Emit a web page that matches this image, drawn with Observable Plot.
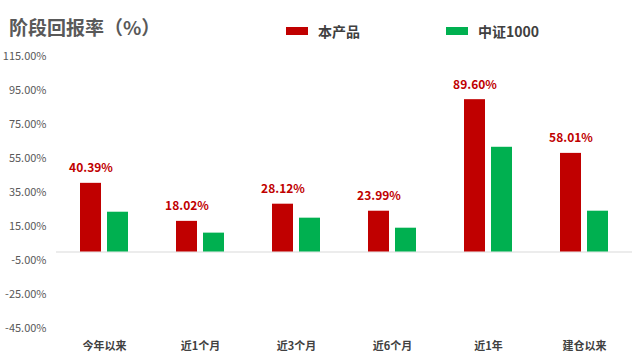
<!DOCTYPE html>
<html>
<head>
<meta charset="utf-8">
<script src="https://cdn.jsdelivr.net/npm/d3@7"></script>
<script src="https://cdn.jsdelivr.net/npm/@observablehq/plot@0.6"></script>
<style>
  body { margin: 0; background: #fff; font-family: "Noto Sans CJK SC", "Noto Sans", sans-serif; }
  #wrap { width: 640px; height: 361px; position: relative; overflow: hidden; }
  #header { position: relative; height: 48px; }
  #title { position: absolute; left: 9px; top: 12px; font-size: 19px; font-weight: bold; color: #595959; line-height: 30px; }
  .leg { position: absolute; top: 21px; font-size: 14px; font-weight: bold; color: #404040; line-height: 20px; display: flex; align-items: center; }
  .sw { width: 22px; height: 8px; margin-right: 10px; display: inline-block; }
</style>
</head>
<body>
<div id="wrap">
  <div id="header">
    <div id="title">阶段回报率（%）</div>
    <div class="leg" id="leg0" style="left:286px"><span class="sw"></span><span class="lt"></span></div>
    <div class="leg" id="leg1" style="left:446px"><span class="sw"></span><span class="lt"></span></div>
  </div>
  <div id="chart"></div>
</div>
<script>
const categories = ["今年以来", "近1个月", "近3个月", "近6个月", "近1年", "建仓以来"];
const series = ["本产品", "中证1000"];
const productValues = [40.39, 18.02, 28.12, 23.99, 89.60, 58.01];
const indexValues = [23.4, 11.1, 19.9, 14.0, 61.6, 24.0];
const yTicks = [-45, -25, -5, 15, 35, 55, 75, 95, 115];
const colors = ["#C00000", "#00B050"];

const data = categories.flatMap((c, i) => [
  {category: c, series: series[0], value: productValues[i]},
  {category: c, series: series[1], value: indexValues[i]}
]);

series.forEach((s, i) => {
  const el = document.getElementById("leg" + i);
  el.querySelector(".sw").style.background = colors[i];
  el.querySelector(".lt").textContent = s;
});

const chart = Plot.plot({
  width: 640,
  height: 313,
  marginTop: 8,
  marginBottom: 33,
  marginLeft: 56,
  marginRight: 8,
  style: {fontFamily: '"Noto Sans CJK SC", "Noto Sans", sans-serif', fontSize: "11px", background: "#fff"},
  fx: {domain: categories, padding: 0},
  x: {domain: series, axis: null, paddingInner: 0.214, paddingOuter: 0.84},
  y: {domain: [-45, 115]},
  color: {domain: series, range: colors},
  marks: [
    Plot.axisY(yTicks, {tickSize: 0, tickPadding: 10, tickFormat: d => d.toFixed(2) + "%", label: null, fill: "#595959", fontSize: 11}),
    Plot.axisFx({anchor: "bottom", tickSize: 0, tickPadding: 14, label: null, fontWeight: "bold", fill: "#404040", fontSize: 11}),
    Plot.ruleY([0], {stroke: "#d9d9d9", strokeWidth: 1}),
    Plot.barY(data, {fx: "category", x: "series", y: "value", fill: "series"}),
    Plot.text(data.filter(d => d.series === series[0]), {
      fx: "category", x: "series", y: "value",
      text: d => d.value.toFixed(2) + "%",
      dy: -15, fill: "#C00000", fontWeight: "bold", fontSize: 12
    })
  ]
});
document.getElementById("chart").appendChild(chart);
</script>
</body>
</html>
